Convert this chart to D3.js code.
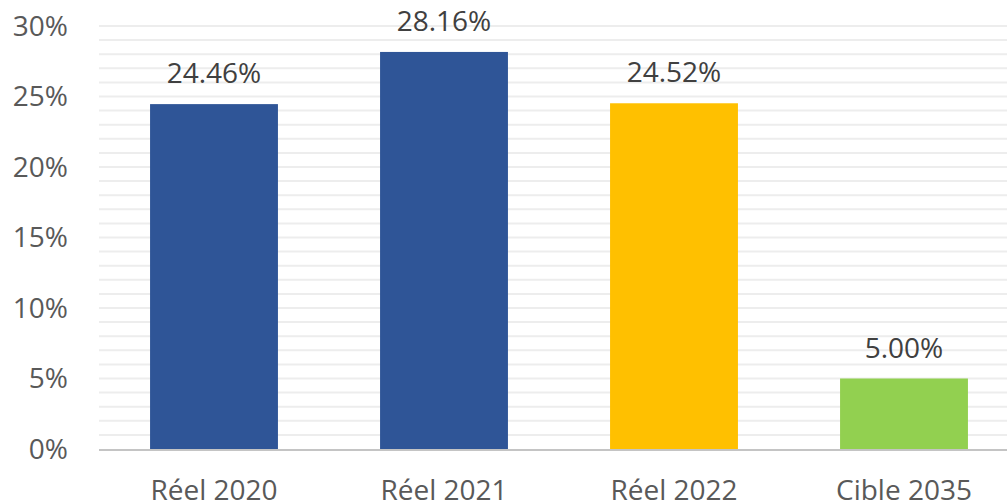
<!DOCTYPE html>
<html>
<head>
<meta charset="utf-8">
<script src="https://cdn.jsdelivr.net/npm/d3@7"></script>
<style>
  html, body { margin: 0; padding: 0; background: #fff; }
  svg { display: block; overflow: hidden; }
  text { font-family: "Open Sans", sans-serif; }
</style>
</head>
<body>
<div class="chart"></div>
<script>
// data
var categories = ["Réel 2020", "Réel 2021", "Réel 2022", "Cible 2035"];
var values = [0.2446, 0.2816, 0.2452, 0.05];
var barColors = ["#2F5597", "#2F5597", "#FFC000", "#92D050"];
var yTicks = [0, 0.05, 0.10, 0.15, 0.20, 0.25, 0.30];
var gridValues = d3.range(0, 31).map(function(i) { return i / 100; });

var W = 1007, H = 503;
var margin = {top: 26, left: 99, bottom: 54};
var plotRight = 1019; // plot area runs past the picture edge

var svg = d3.select(".chart").append("svg")
    .attr("width", W)
    .attr("height", H);

var x = d3.scaleBand()
    .domain(categories)
    .range([margin.left, plotRight])
    .paddingInner(0.444)
    .paddingOuter(0.222);

var y = d3.scaleLinear()
    .domain([0, 0.30])
    .range([H - margin.bottom, margin.top]);

// minor + major gridlines, every 1%
svg.append("g")
  .selectAll("line")
  .data(gridValues.filter(function(d) { return d > 0; }))
  .enter().append("line")
    .attr("x1", margin.left)
    .attr("x2", plotRight)
    .attr("y1", function(d) { return y(d); })
    .attr("y2", function(d) { return y(d); })
    .style("stroke", "#ededed")
    .style("stroke-width", 2);

// y axis labels
var yAxis = svg.append("g")
    .attr("transform", "translate(" + margin.left + ",0)")
    .call(d3.axisLeft(y).tickValues(yTicks).tickFormat(d3.format(".0%")).tickSize(0).tickPadding(31));
yAxis.select(".domain").remove();
yAxis.selectAll("text")
    .style("font-family", "'Open Sans', sans-serif")
    .style("font-size", "28px")
    .style("fill", "#595959")
    .attr("dy", "0.33em");

// bars
svg.selectAll(".bar")
    .data(values)
  .enter().append("rect")
    .attr("class", "bar")
    .attr("x", function(d, i) { return x(categories[i]); })
    .attr("width", x.bandwidth())
    .attr("y", function(d) { return y(d); })
    .attr("height", function(d) { return y(0) - y(d); })
    .style("fill", function(d, i) { return barColors[i]; });

// value labels
svg.selectAll(".val")
    .data(values)
  .enter().append("text")
    .attr("class", "val")
    .attr("x", function(d, i) { return x(categories[i]) + x.bandwidth() / 2; })
    .attr("y", function(d) { return y(d) - 21; })
    .attr("text-anchor", "middle")
    .style("font-size", "28px")
    .style("fill", "#404040")
    .text(function(d) { return d3.format(".2%")(d); });

// x axis line
svg.append("line")
    .attr("x1", margin.left)
    .attr("x2", plotRight)
    .attr("y1", y(0) + 1)
    .attr("y2", y(0) + 1)
    .style("stroke", "#c4c4c4")
    .style("stroke-width", 2);

// category labels
var xAxis = svg.append("g")
    .attr("transform", "translate(0," + y(0) + ")")
    .call(d3.axisBottom(x).tickSize(0).tickPadding(0));
xAxis.select(".domain").remove();
xAxis.selectAll("text")
    .attr("y", 51)
    .attr("dy", 0)
    .style("font-family", "'Open Sans', sans-serif")
    .style("font-size", "28px")
    .style("fill", "#595959");
</script>
</body>
</html>
